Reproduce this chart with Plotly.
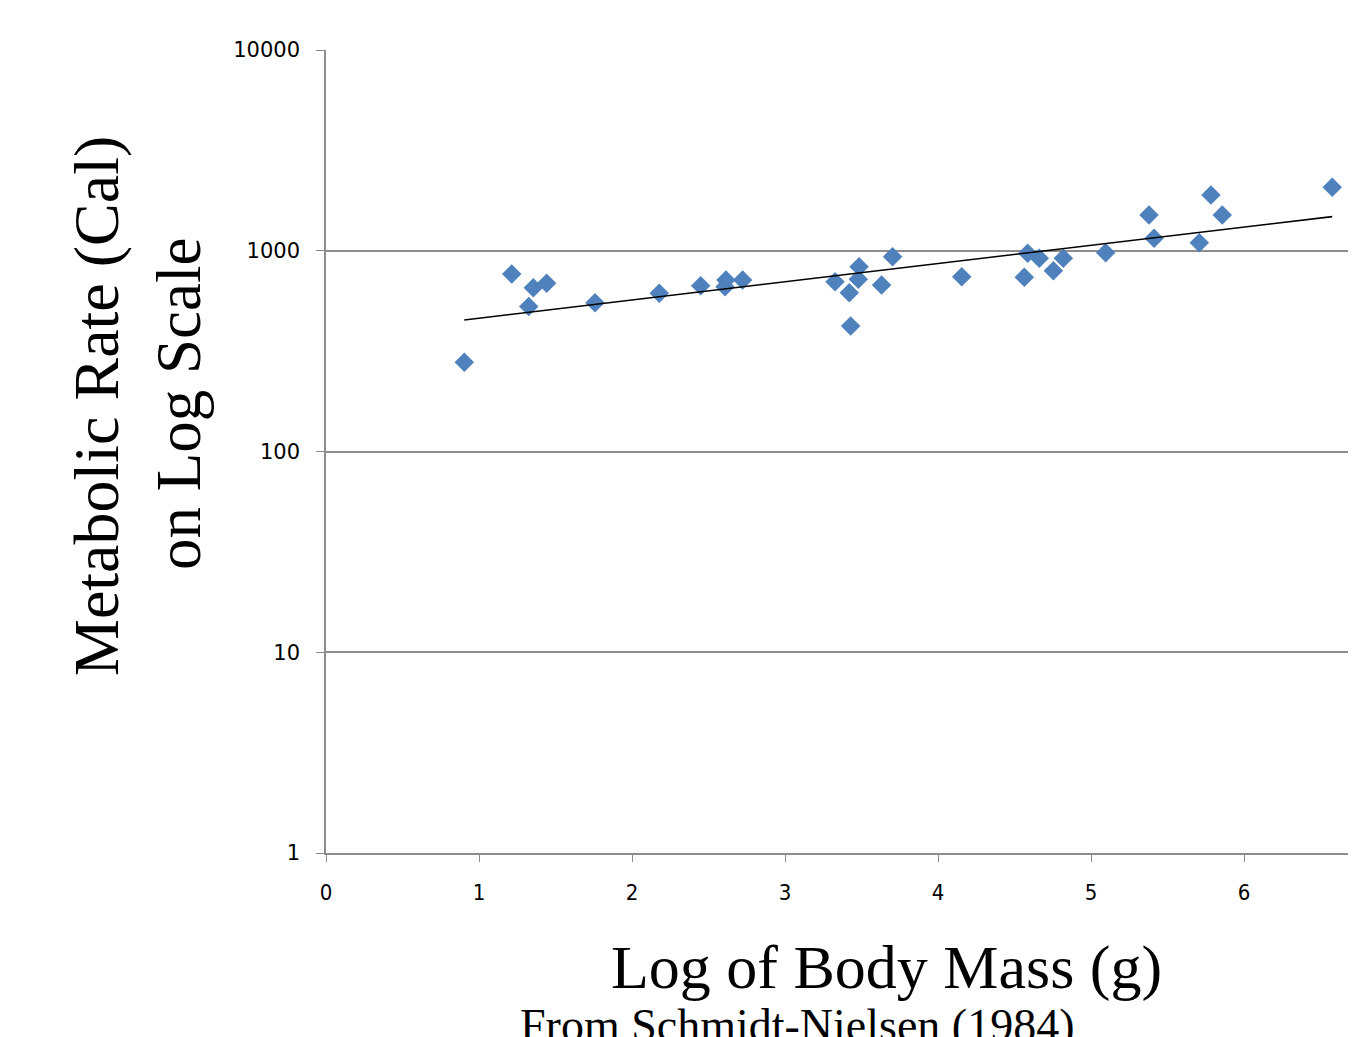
import plotly.graph_objects as go

# Data
log_mass = [0.904, 1.214, 1.355, 1.442, 1.325, 1.758, 2.178, 2.449, 2.608, 2.614,
            2.723, 3.327, 3.484, 3.479, 3.420, 3.429, 3.631, 3.703, 4.155, 4.564,
            4.586, 4.662, 4.754, 4.819, 5.096, 5.379, 5.412, 5.708, 5.784, 5.858, 6.577]
metabolic_rate = [278, 766, 655, 689, 527, 551, 614, 670, 662, 715,
                  715, 701, 833, 721, 618, 422, 675, 934, 743, 738,
                  971, 917, 796, 917, 978, 1507, 1153, 1097, 1896, 1507, 2070]
trend_x = [0.904, 6.577]
trend_y = [452, 1479]
x_ticks = [0, 1, 2, 3, 4, 5, 6]
y_ticks = [1, 10, 100, 1000, 10000]

fig = go.Figure()
fig.add_trace(go.Scatter(
    x=log_mass, y=metabolic_rate, mode="markers",
    marker=dict(symbol="diamond", size=15, color="#4F81BD", line=dict(width=0)),
    showlegend=False))
fig.add_trace(go.Scatter(
    x=trend_x, y=trend_y, mode="lines",
    line=dict(color="black", width=1.6), showlegend=False))

axis_gray = "#8c8c8c"
W, H = 1348, 1029
ML, MT, MB = 318, 42, 184
fig.update_layout(
    width=W, height=H,
    margin=dict(l=ML, r=0, t=MT, b=MB),
    paper_bgcolor="white", plot_bgcolor="white",
    font=dict(family="DejaVu Sans, sans-serif", color="black"),
    xaxis=dict(range=[0, 6.732], tickvals=x_ticks, ticktext=[str(v) for v in x_ticks],
               showgrid=False, zeroline=False, showline=True, linecolor=axis_gray,
               linewidth=1.5, ticks="outside", ticklen=7, tickcolor=axis_gray,
               tickwidth=1.2, ticklabelstandoff=12,
               tickfont=dict(size=22, family="DejaVu Sans Condensed, DejaVu Sans, sans-serif")),
    yaxis=dict(type="log", range=[0, 4], tickvals=y_ticks, ticktext=[str(v) for v in y_ticks],
               showgrid=True, gridcolor=axis_gray, gridwidth=1.5, zeroline=False,
               showline=True, linecolor=axis_gray, linewidth=1.5, ticks="outside",
               ticklen=8, tickcolor=axis_gray, tickwidth=1.2, ticklabelstandoff=12,
               tickfont=dict(size=21, family="DejaVu Sans, sans-serif")),
)

title_font = "Liberation Serif, DejaVu Serif, serif"
fig.add_annotation(text="Metabolic Rate (Cal)", x=88, y=398, textangle=-90,
                   font=dict(size=64, family=title_font))
fig.add_annotation(text="on Log Scale", x=171, y=396, textangle=-90,
                   font=dict(size=63, family=title_font))
fig.add_annotation(text="Log of Body Mass (g)", x=878, y=960,
                   font=dict(size=62, family=title_font))
fig.add_annotation(text="From Schmidt-Nielsen (1984)", x=789, y=1017,
                   font=dict(size=46, family=title_font))

# convert pixel positions of annotations to paper coords
plot_w, plot_h = W - ML, H - MT - MB
for ann in fig.layout.annotations:
    px, py = ann.x, ann.y
    ann.x = (px - ML) / plot_w
    ann.y = 1 - (py - MT) / plot_h
    ann.xref = "paper"
    ann.yref = "paper"
    ann.showarrow = False
    ann.xanchor = "center"
    ann.yanchor = "middle"

fig.write_html("out.html")
